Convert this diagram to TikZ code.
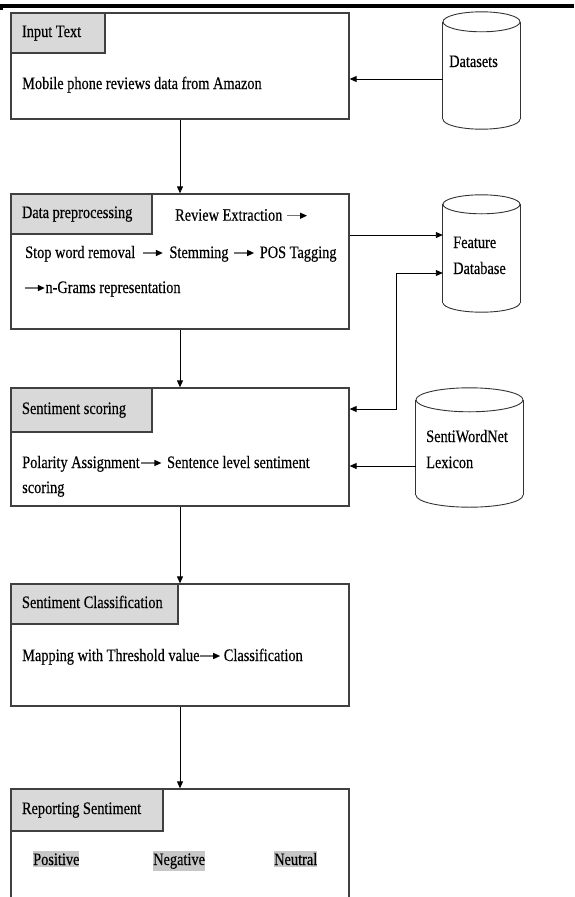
\documentclass[tikz,border=0pt]{standalone}
\usepackage{fontspec}
\setmainfont[FakeStretch=0.82, FakeBold=0.3]{Liberation Serif}
\usepackage{tikz}
\usetikzlibrary{arrows.meta,calc}

\tikzset{
  stage/.style={draw=black!75, line width=1.3pt, minimum width=338pt, inner sep=0pt},
  headtab/.style={draw=black!75, line width=1.3pt, fill=black!15, anchor=north west,
    inner xsep=11pt, inner ysep=0pt, align=flush left, text height=11pt, text depth=3pt},
  drum/.style={inner sep=0pt},
  drumline/.style={draw=black!80, line width=0.9pt},
  flow/.style={-{Triangle[length=7pt,width=6pt]}, line width=0.9pt},
  bodytext/.style={anchor=base west, inner sep=0pt},
  hltext/.style={anchor=base west, inner xsep=0pt, inner ysep=2pt, fill=black!22}
}
\newcommand{\stepto}{\tikz[baseline={(0pt,-5pt)}]\draw[line width=1.3pt, black!55,
  -{Triangle[length=7pt,width=6pt,black]}] (0pt,0pt) -- (20pt,0pt);}
% #1 node, #2 half width, #3 ellipse half height
\newcommand{\drawdrum}[3]{%
  \draw[drumline] let \p1=(#1.north), \p2=(#1.south) in
    (\x2,\y2+#3pt) ellipse [x radius=#2pt, y radius=#3pt];
  \fill[white] let \p1=(#1.north west), \p2=(#1.south east) in
    (\x1,\y2+#3pt) rectangle (\x2,\y1-#3pt);
  \draw[drumline] let \p1=(#1.north west), \p2=(#1.south east) in
    (\x1,\y2+#3pt) -- (\x1,\y1-#3pt) (\x2,\y2+#3pt) -- (\x2,\y1-#3pt);
  \draw[drumline] let \p1=(#1.north) in
    (\x1,\y1-#3pt) ellipse [x radius=#2pt, y radius=#3pt];
}

\begin{document}
\begin{tikzpicture}[x=1pt, y=-1pt, font=\fontsize{17.5}{20}\selectfont]
    \clip (0,0) rectangle (574,897);
    \fill[white] (0,0) rectangle (574,897);
    \fill[black] (0,3.5) rectangle (574,7.5);
    \fill[black] (0,7) rectangle (3,10);

    \node[stage, minimum height=106pt] (input) at (180,66) {};
    \node[headtab, text width=72pt, minimum height=40pt] (inputtab) at (input.north west) {Input Text};
    \node[bodytext] (inputtxt) at (22,89) {Mobile phone reviews data from Amazon};

    \node[stage, minimum height=135pt] (prep) at (180,261.5) {};
    \node[headtab, text width=119pt, minimum height=40pt] (preptab) at (prep.north west) {Data preprocessing};
    \node[bodytext] (preptxta) at (175,220.7) {Review Extraction\hspace{4pt}\stepto};
    \node[bodytext] (preptxtb) at (25,258) {Stop word removal\hspace{7pt}\stepto\hspace{6pt}Stemming\hspace{5pt}\stepto\hspace{5pt}POS Tagging};
    \node[bodytext] (preptxtc) at (24,293) {\stepto n-Grams representation};

    \node[stage, minimum height=118pt] (score) at (180,447) {};
    \node[headtab, text width=119pt, minimum height=44pt] (scoretab) at (score.north west) {Sentiment scoring};
    \node[bodytext] (scoretxta) at (22,468) {Polarity Assignment\hspace{1pt}\stepto\hspace{5pt}Sentence level sentiment};
    \node[bodytext] (scoretxtb) at (22,493) {scoring};

    \node[stage, minimum height=122pt] (classify) at (180,645) {};
    \node[headtab, text width=145pt, minimum height=40pt] (classifytab) at (classify.north west) {Sentiment Classification};
    \node[bodytext] (classifytxt) at (22,661) {Mapping with Threshold value\stepto\hspace{3pt}Classification};

    \node[stage, minimum height=130pt] (report) at (180,854) {};
    \node[headtab, text width=130pt, minimum height=42pt] (reporttab) at (report.north west) {Reporting Sentiment};
    \node[hltext] (pos) at (33,865) {Positive};
    \node[hltext] (neg) at (153,865) {Negative};
    \node[hltext] (neu) at (274,865) {Neutral};

    \node[drum, minimum width=77pt, minimum height=117pt] (dsdb) at (481.5,70.5) {};
    \drawdrum{dsdb}{38.5}{10}
    \node[bodytext] (dsdbtxt) at (449,67) {Datasets};
    \node[drum, minimum width=77pt, minimum height=117pt] (featdb) at (481.5,253.5) {};
    \drawdrum{featdb}{38.5}{9.5}
    \node[bodytext] (featdbtxta) at (453,248) {Feature};
    \node[bodytext] (featdbtxtb) at (453,274) {Database};
    \node[drum, minimum width=107pt, minimum height=119pt] (swn) at (469.5,447.5) {};
    \drawdrum{swn}{53.5}{12}
    \node[bodytext] (swntxta) at (426,442) {SentiWordNet};
    \node[bodytext] (swntxtb) at (426,468) {Lexicon};

    \coordinate (fdbtap) at (396,273);

    \draw[flow] (input.south) -- (prep.north);
    \draw[flow] (prep.south) -- (score.north);
    \draw[flow] (score.south) -- (classify.north);
    \draw[flow] (classify.south) -- (report.north);
    \draw[flow] ([yshift=-8.5pt]dsdb.west) -- ([yshift=-8.5pt]dsdb.west -| input.east);
    \draw[flow] ([yshift=18.5pt]featdb.west -| prep.east) -- ([yshift=18.5pt]featdb.west);
    \draw[flow, {Triangle[length=7pt,width=6pt]}-{Triangle[length=7pt,width=6pt]}]
      ([yshift=38pt]score.east) -| (fdbtap) -- (fdbtap -| featdb.west);
    \draw[flow] ([yshift=-18.5pt]swn.west) -- ([yshift=-18.5pt]swn.west -| score.east);
\end{tikzpicture}
\end{document}
